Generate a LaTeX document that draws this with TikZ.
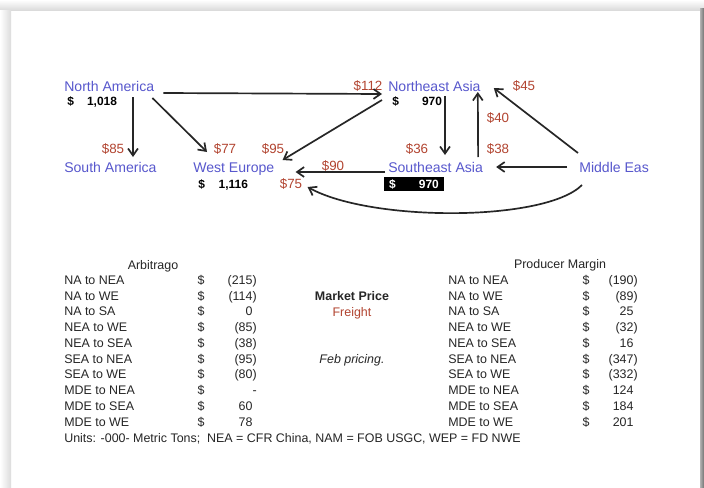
\documentclass[tikz,border=0pt]{standalone}
\usepackage{fontspec}
\setmainfont{Liberation Sans}
\usetikzlibrary{arrows.meta, calc}
\definecolor{regionblue}{RGB}{88,88,205}
\definecolor{freightred}{RGB}{178,68,48}

\begin{document}
\begin{tikzpicture}[x=0.025cm, y=-0.025cm,
    region/.style={font=\fontsize{10}{12}\selectfont, text=regionblue, inner sep=0pt, anchor=west, text height=7.2pt, text depth=0pt},
    price/.style={font=\fontsize{8.5}{10}\selectfont\bfseries, inner sep=0pt, anchor=west, text height=6.1pt, text depth=0pt},
    freight/.style={font=\fontsize{9.5}{11}\selectfont, text=freightred, inner sep=0pt, text height=6.8pt, text depth=0pt},
    cell/.style={font=\fontsize{8.85}{11}\selectfont, text=black!85, inner sep=0pt, text height=6.35pt, text depth=0pt},
    arr/.style={-{Straight Barb[length=5pt, width=7pt]}, line width=1.2pt, black!85},
  ]
  % page with its shadow
  \useasboundingbox (0,0) rectangle (704,487);
  \fill[white] (0,0) rectangle (704,487);
  \shade[top color=white, bottom color=black!14] (0,0) rectangle (704,10);
  \shade[left color=white, right color=black!14] (0,10) rectangle (11,487);
  \shade[left color=black!30, right color=black!55] (700,8) rectangle (704,487);

  % regions
  \node[region] (na)  at (64,86)  {North America};
  \node[region] (sa)  at (64,167) {South America};
  \node[region] (we)  at (193,167) {West Europe};
  \node[region] (nea) at (388,86) {Northeast Asia};
  \node[region] (sea) at (388,167) {Southeast Asia};
  \begin{scope}
    \clip (0,0) rectangle (648,487);
    \node[region] (mde) at (579,167) {Middle East};
  \end{scope}

  % market prices
  \node[price] (na-p)  at (67,101)  {\$\makebox[3.6em][r]{1,018}};
  \node[price] (we-p)  at (198,184) {\$\makebox[3.6em][r]{1,116}};
  \node[price] (nea-p) at (392,101) {\$\makebox[3.6em][r]{970}};
  \node[price, fill=black, text=white, inner xsep=3.5pt, inner ysep=2pt] (sea-p) at (384,184) {\$\makebox[3.6em][r]{970}};

  % freight
  \node[freight] (f-na-nea)  at (368,86)  {\$112};
  \node[freight] (f-mde-nea) at (524,86)  {\$45};
  \node[freight] (f-sea-nea) at (498,118) {\$40};
  \node[freight] (f-na-sa)   at (113,149) {\$85};
  \node[freight] (f-na-we)   at (225,149) {\$77};
  \node[freight] (f-nea-we)  at (273,149) {\$95};
  \node[freight] (f-nea-sea) at (417,149) {\$36};
  \node[freight] (f-mde-sea) at (498,149) {\$38};
  \node[freight] (f-sea-we)  at (333,166) {\$90};
  \node[freight] (f-mde-we)  at (291,184) {\$75};

  % routes
  \draw[arr] ($(na.east)+(9,7)$) -- ($(nea.west)+(-6,8)$);
  \draw[arr] ($(na.west)+(69,11)$) -- ($(sa.west)+(69,-10)$);
  \draw[arr] ($(na.east)+(-2,12)$) -- ($(we.west)+(14,-15)$);
  \draw[arr] ($(nea.west)+(-6,14)$) -- ($(we.east)+(8,-7)$);
  \draw[arr] ($(nea.west)+(57,10)$) -- ($(sea.west)+(57,-12)$);
  \draw[arr] ($(sea.east)+(-5,-10)$) -- ($(nea.east)+(-3,6)$);
  \draw[arr] ($(mde.west)+(-1,-14)$) -- ($(nea.east)+(13,2)$);
  \draw[arr] ($(mde.west)+(-12,0)$) -- ($(sea.east)+(13,0)$);
  \draw[arr] ($(sea.west)+(-3,5)$) -- ($(we.east)+(21,5)$);
  \draw[arr] ($(mde.west)+(3,18)$) .. controls ($(mde.west)+(-34,55)$) and ($(we.east)+(96,55)$) .. ($(we.east)+(33,20)$);

  % tables
  \node[cell] (arb) at (153,265) {Arbitrago};
  \node[cell] (prm) at (560,264) {Producer Margin};
  \foreach \lbl/\arbv/\prmv [count=\i] in {
      NA to NEA/(215)/(190),
      NA to WE/(114)/(89),
      NA to SA/0\phantom{)}/25\phantom{)},
      NEA to WE/(85)/(32),
      NEA to SEA/(38)/16\phantom{)},
      SEA to NEA/(95)/(347),
      SEA to WE/(80)/(332),
      MDE to NEA/-\hspace{1.5em}/124\phantom{)},
      MDE to SEA/60\phantom{)}/184\phantom{)},
      MDE to WE/78\phantom{)}/201\phantom{)}} {
    \pgfmathsetmacro{\rowy}{280+(\i-1)*15.75}
    \node[cell, anchor=west] (al\i) at (64,\rowy) {\lbl};
    \node[cell] (ad\i) at (201,\rowy) {\$};
    \node[cell, anchor=east] (av\i) at (257,\rowy) {\arbv};
    \node[cell, anchor=west] (pl\i) at (448,\rowy) {\lbl};
    \node[cell] (pd\i) at (586,\rowy) {\$};
    \node[cell, anchor=east] (pv\i) at (638,\rowy) {\prmv};
  }
  \node[cell, anchor=west] (units) at (64,438) {Units: -000- Metric Tons;\ \ NEA = CFR China, NAM = FOB USGC, WEP = FD NWE};

  % legend
  \node[cell, font=\fontsize{8.85}{11}\selectfont\bfseries] (mp) at (352,296) {Market Price};
  \node[cell, text=freightred] (fr) at (352,312) {Freight};
  \node[cell, font=\fontsize{8.85}{11}\selectfont\itshape] (feb) at (352,359) {Feb pricing.};
\end{tikzpicture}
\end{document}
